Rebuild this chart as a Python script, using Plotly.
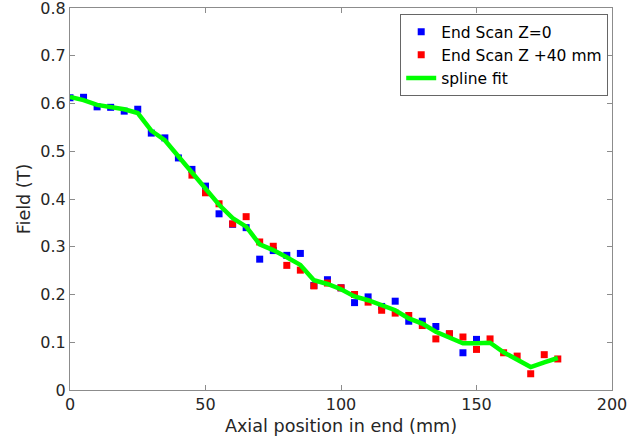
import plotly.graph_objects as go

# Data
x_blue = [0, 5, 10, 15, 20, 25, 30, 35, 40, 45, 50, 55, 60, 65, 70, 75, 80, 85,
          90, 95, 100, 105, 110, 115, 120, 125, 130, 135, 140, 145, 150]
y_blue = [0.612, 0.613, 0.593, 0.592, 0.584, 0.588, 0.538, 0.528, 0.486, 0.462,
          0.427, 0.369, 0.347, 0.340, 0.274, 0.292, 0.282, 0.286, 0.219, 0.231,
          0.214, 0.183, 0.195, 0.175, 0.186, 0.144, 0.144, 0.133, 0.117, 0.078,
          0.106]

x_red = [45, 50, 55, 60, 65, 70, 75, 80, 85, 90, 95, 100, 105, 110, 115, 120,
         125, 130, 135, 140, 145, 150, 155, 160, 165, 170, 175, 180]
y_red = [0.450, 0.413, 0.390, 0.348, 0.363, 0.310, 0.301, 0.261, 0.251, 0.218,
         0.224, 0.214, 0.200, 0.184, 0.167, 0.161, 0.156, 0.135, 0.107, 0.118,
         0.111, 0.085, 0.107, 0.078, 0.071, 0.034, 0.074, 0.065]

x_fit = [0, 5, 10, 15, 20, 25, 30, 35, 40, 45, 50, 55, 60, 65, 70, 75, 80, 85,
         90, 95, 100, 105, 110, 115, 120, 125, 130, 135, 140, 145, 150, 155,
         160, 165, 170, 175, 180]
y_fit = [0.614, 0.607, 0.597, 0.593, 0.588, 0.580, 0.543, 0.523, 0.490, 0.455,
         0.423, 0.388, 0.360, 0.342, 0.305, 0.293, 0.278, 0.262, 0.230, 0.222,
         0.211, 0.196, 0.188, 0.177, 0.167, 0.150, 0.139, 0.122, 0.111, 0.098,
         0.098, 0.099, 0.079, 0.063, 0.048, 0.058, 0.067]

x_ticks = [0, 50, 100, 150, 200]
y_ticks = [0, 0.1, 0.2, 0.3, 0.4, 0.5, 0.6, 0.7, 0.8]
y_tick_labels = ["0", "0.1", "0.2", "0.3", "0.4", "0.5", "0.6", "0.7", "0.8"]

FONT = "DejaVu Sans"
TXT = "#262626"
AX = "#8c8c8c"

fig = go.Figure()
fig.add_trace(go.Scatter(x=x_blue, y=y_blue, mode="markers", name="End Scan Z=0",
                         marker=dict(symbol="square", size=7, color="#0000ff", line=dict(width=0))))
fig.add_trace(go.Scatter(x=x_red, y=y_red, mode="markers", name="End Scan Z +40 mm",
                         marker=dict(symbol="square", size=7, color="#ff0000", line=dict(width=0))))
fig.add_trace(go.Scatter(x=x_fit, y=y_fit, mode="lines", name="spline fit",
                         line=dict(color="#00ff00", width=4.5)))

axis_common = dict(
    showgrid=False, zeroline=False, showline=True, linecolor=AX, linewidth=1,
    mirror="ticks", ticks="inside", ticklen=5, tickcolor=AX, tickwidth=1,
    tickfont=dict(family=FONT, size=16, color=TXT), ticklabeloverflow="allow",
)

fig.update_layout(
    width=638, height=438,
    margin=dict(l=70, r=26, t=8, b=48),
    paper_bgcolor="white", plot_bgcolor="white",
    font=dict(family=FONT, color=TXT),
    xaxis=dict(range=[0, 200], tickvals=x_ticks, automargin=False,
               title=dict(text="Axial position in end (mm)", standoff=6,
                          font=dict(family=FONT, size=17.6, color=TXT)),
               **axis_common),
    yaxis=dict(range=[0, 0.8], tickvals=y_ticks, ticktext=y_tick_labels, automargin=False,
               title=dict(text="Field (T)", standoff=5,
                          font=dict(family=FONT, size=17.6, color=TXT)),
               **axis_common),
    legend=dict(x=0.993, y=0.984, xanchor="right", yanchor="top",
                bgcolor="white", bordercolor="#666666", borderwidth=1,
                font=dict(family=FONT, size=15.5, color="#000000"),
                itemwidth=30, tracegroupgap=0),
    showlegend=True,
)

fig.write_html("out.html", config={"displayModeBar": False},
               post_script="document.body.style.margin='0';document.body.style.overflow='hidden';")
